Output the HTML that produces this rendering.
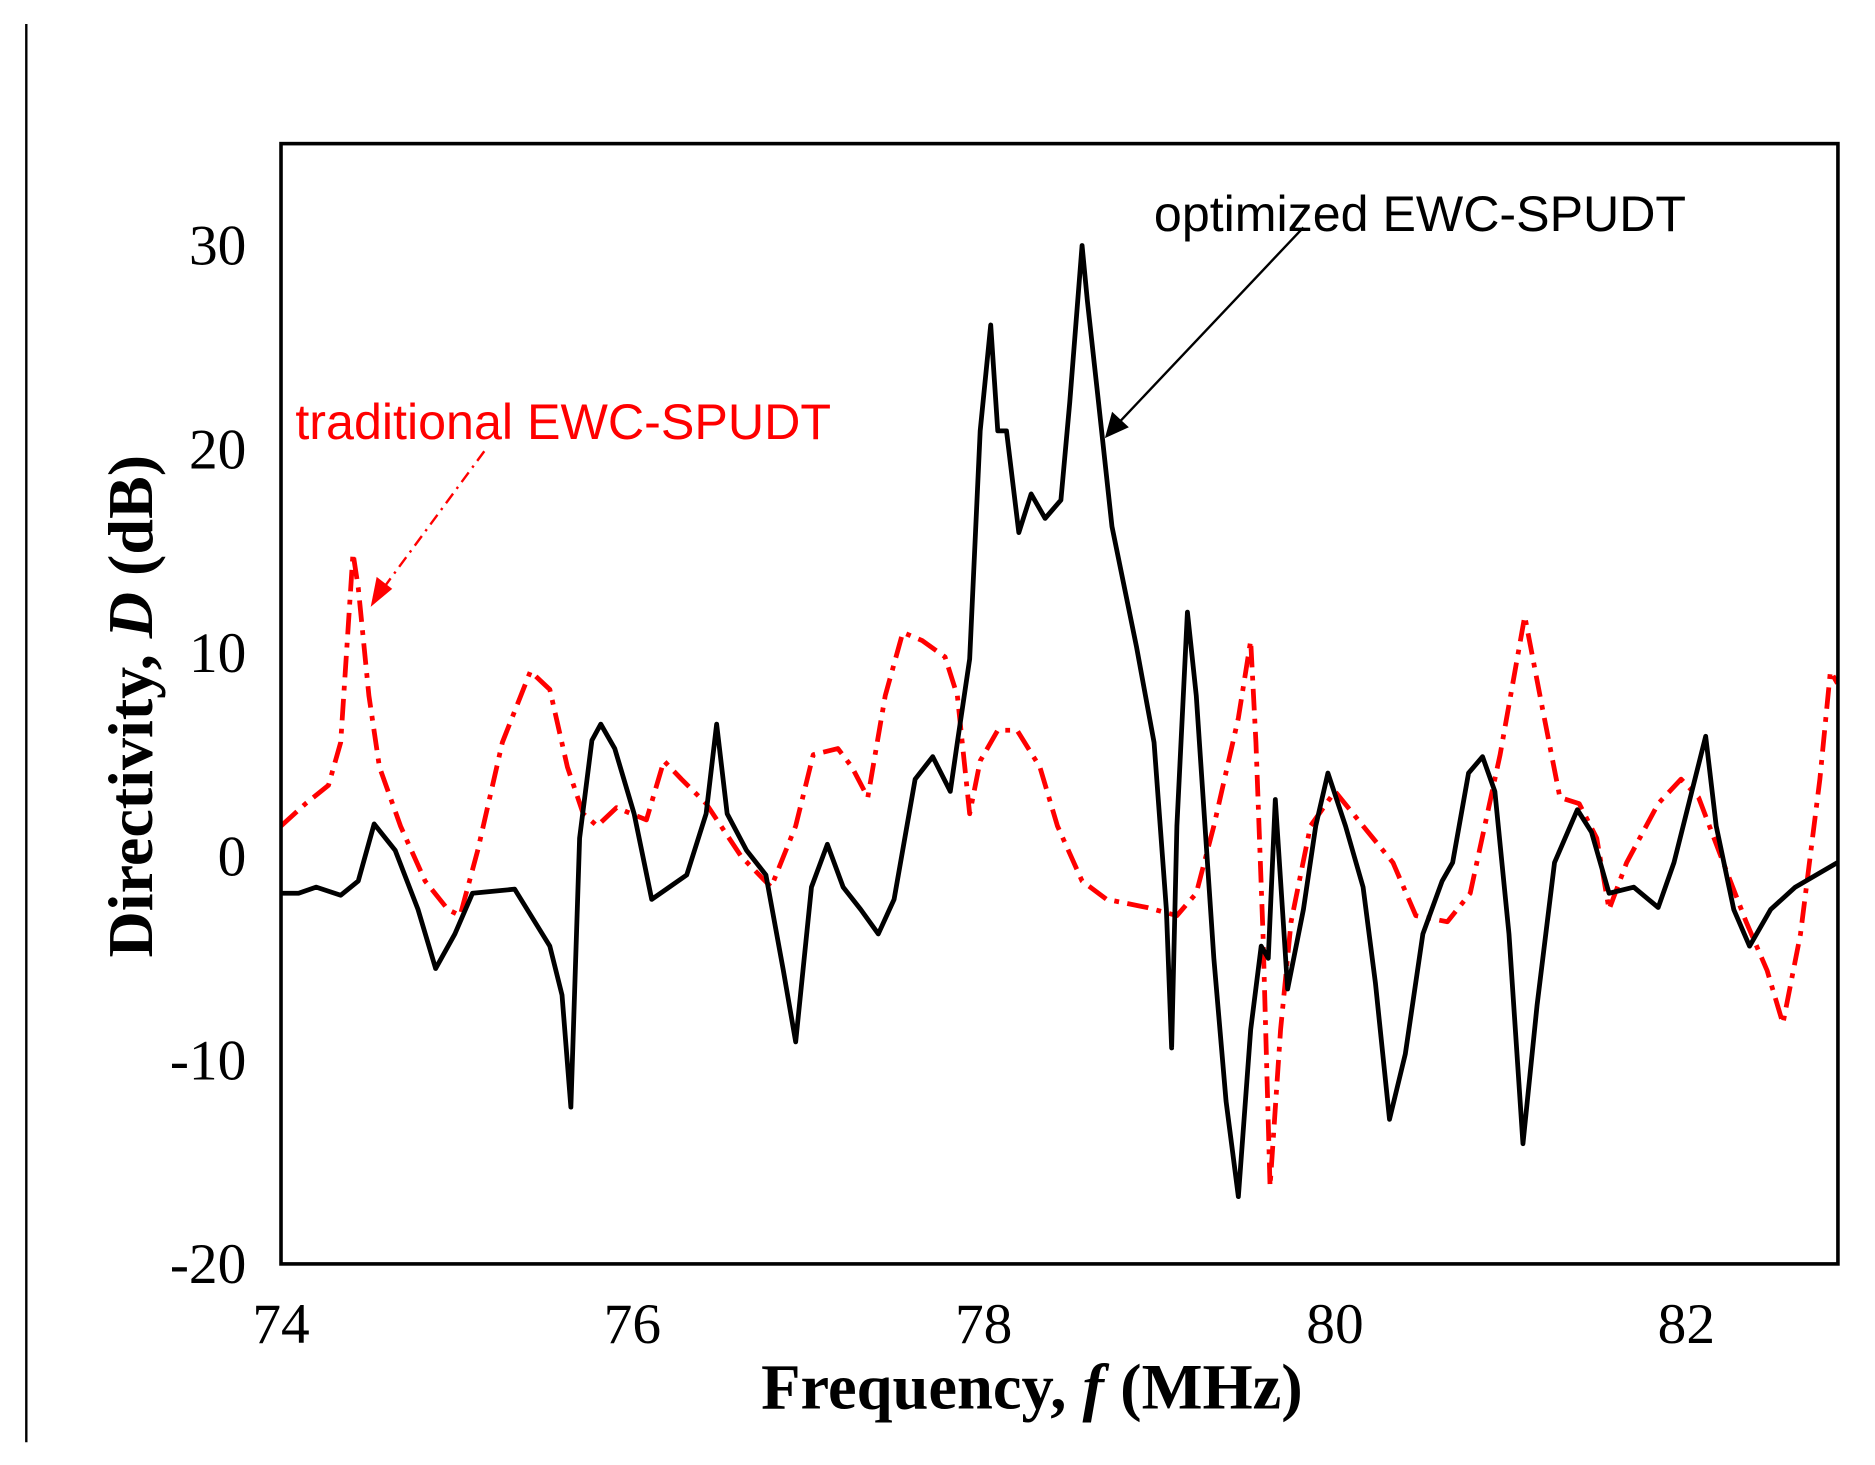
<!DOCTYPE html>
<html><head><meta charset="utf-8"><style>
html,body{margin:0;padding:0;background:#fff;}
svg{display:block;}
</style></head><body>
<svg id="chart" width="1875" height="1465" viewBox="0 0 1568 1224" preserveAspectRatio="none" xmlns="http://www.w3.org/2000/svg">
<line x1="22" y1="20" x2="22" y2="1205" stroke="#000" stroke-width="2"/>
<g id="plot"></g>
<rect x="235" y="120" width="1302" height="936" fill="none" stroke="#000" stroke-width="3"/>
<text x="863" y="1177" text-anchor="middle" font-family="Liberation Serif, serif" font-weight="bold" font-size="54" textLength="453" lengthAdjust="spacingAndGlyphs">Frequency, <tspan font-style="italic">f</tspan> (MHz)</text>
<text transform="translate(127,590) rotate(-90)" text-anchor="middle" font-family="Liberation Serif, serif" font-weight="bold" font-size="53" textLength="420" lengthAdjust="spacingAndGlyphs">Directivity, <tspan font-style="italic">D</tspan> (dB)</text>
<text x="965" y="193" font-family="Liberation Sans, sans-serif" font-size="42" textLength="445" lengthAdjust="spacingAndGlyphs" fill="#000">optimized EWC-SPUDT</text>
<line x1="1090" y1="190" x2="932" y2="357" stroke="#000" stroke-width="2"/>
<polygon points="924,366 930,344 944,357" fill="#000"/>
<text x="247" y="367" font-family="Liberation Sans, sans-serif" font-size="42" textLength="448" lengthAdjust="spacingAndGlyphs" fill="#f00">traditional EWC-SPUDT</text>
<line x1="405" y1="377" x2="318" y2="495" stroke="#f00" stroke-width="2" stroke-dasharray="10,5,2,5"/>
<polygon points="310,507 315,482 328,492" fill="#f00"/>
</svg>
<script>
const xTicks=[74,76,78,80,82];
const yTicks=[-20,-10,0,10,20,30];
const optFreq=[74,74.1,74.2,74.34,74.44,74.53,74.65,74.78,74.88,74.99,75.09,75.33,75.53,75.6,75.65,75.7,75.77,75.82,75.9,76.01,76.11,76.21,76.31,76.42,76.48,76.54,76.65,76.76,76.86,76.93,77.02,77.11,77.2,77.3,77.4,77.49,77.61,77.71,77.81,77.85,77.92,77.98,78.04,78.08,78.13,78.2,78.27,78.35,78.44,78.49,78.56,78.59,78.65,78.73,78.87,78.97,79.04,79.07,79.1,79.16,79.21,79.31,79.38,79.45,79.52,79.58,79.62,79.66,79.73,79.82,79.89,79.96,80.06,80.16,80.23,80.31,80.4,80.5,80.61,80.67,80.76,80.84,80.91,80.99,81.07,81.15,81.25,81.38,81.46,81.56,81.7,81.84,81.93,82.11,82.17,82.27,82.36,82.48,82.62,82.86];
const optD=[-1.8,-1.8,-1.5,-1.9,-1.2,1.6,0.3,-2.6,-5.5,-3.8,-1.8,-1.6,-4.4,-6.8,-12.3,0.9,5.7,6.5,5.3,2.1,-2.1,-1.5,-0.9,2.1,6.5,2.1,0.3,-0.9,-5.6,-9.1,-1.5,0.6,-1.5,-2.6,-3.8,-2.1,3.8,4.9,3.2,5.6,9.7,20.9,26.1,20.9,20.9,15.9,17.8,16.6,17.5,22.3,30,27.3,22.6,16.2,10.3,5.6,-2.6,-9.4,1.5,12,7.9,-5,-12,-16.7,-8.5,-4.4,-5,2.8,-6.5,-2.6,1.5,4.1,1.5,-1.5,-6.2,-12.9,-9.7,-3.8,-1.2,-0.3,4.1,4.9,3.2,-3.8,-14.1,-7.3,-0.3,2.3,1.2,-1.8,-1.5,-2.5,-0.3,5.9,1.5,-2.6,-4.4,-2.6,-1.5,-0.3];
const tradFreq=[74,74.14,74.27,74.34,74.41,74.44,74.5,74.56,74.68,74.82,74.95,75.02,75.12,75.26,75.42,75.53,75.63,75.72,75.8,75.91,76.08,76.18,76.28,76.42,76.62,76.79,76.93,77.03,77.17,77.25,77.34,77.44,77.54,77.65,77.78,77.85,77.92,77.98,78.08,78.19,78.32,78.42,78.56,78.7,78.93,79.1,79.21,79.31,79.45,79.52,79.55,79.59,79.63,79.69,79.75,79.86,80,80.16,80.33,80.46,80.64,80.77,80.94,81.08,81.18,81.28,81.39,81.49,81.56,81.66,81.84,81.97,82.07,82.21,82.34,82.46,82.55,82.65,82.76,82.82,82.86];
const tradD=[1.5,2.6,3.5,5.6,14.9,13.2,7.9,4.4,1.5,-1.2,-2.6,-2.9,0.3,5.6,9.1,8.2,4.4,2.1,1.5,2.4,1.8,4.7,3.8,2.6,0,-1.5,1.5,5,5.3,4.4,2.9,7.9,11,10.6,9.8,7.9,2.1,4.7,6.2,6.2,4.4,1.5,-1.2,-2.1,-2.5,-2.9,-1.8,1.5,6.8,10.6,5.6,-3.8,-16.2,-8.5,-3.2,1.5,3.2,1.5,-0.3,-2.9,-3.2,-1.8,5,11.8,7.3,2.9,2.6,0.9,-2.6,-0.3,2.6,3.8,2.9,-0.3,-3.2,-5.6,-8.2,-3.8,3.8,9.1,8.5];
const NS='http://www.w3.org/2000/svg';
const X0=235,X1=1537,Y0=1056,Y1=120,FMIN=74,FMAX=82.863,DMIN=-20,DMAX=35;
function sx(f){return X0+(f-FMIN)/(FMAX-FMIN)*(X1-X0);}
function sy(d){return Y0-(d-DMIN)/(DMAX-DMIN)*(Y0-Y1);}
const svg=document.getElementById('chart');
const plot=document.getElementById('plot');
function mk(tag,attrs){const e=document.createElementNS(NS,tag);for(const k in attrs)e.setAttribute(k,attrs[k]);return e;}
xTicks.forEach(t=>{
  const e=mk('text',{x:sx(t),y:1122,'text-anchor':'middle','font-family':'Liberation Serif, serif','font-size':'48'});
  
  
  e.textContent=t;svg.appendChild(e);
});
yTicks.forEach(t=>{
  const e=mk('text',{x:206,y:sy(t)+16,'text-anchor':'end','font-family':'Liberation Serif, serif','font-size':'48'});
  
  
  e.textContent=t;svg.appendChild(e);
});
function pathD(fs,ds){return fs.map((f,i)=>(i?'L':'M')+sx(f).toFixed(1)+','+sy(ds[i]).toFixed(1)).join(' ');}
const red=mk('path',{d:pathD(tradFreq,tradD),fill:'none',stroke:'#f00','stroke-width':'4','stroke-dasharray':'18,7,4,7','stroke-linejoin':'round'});


plot.appendChild(red);
const blk=mk('path',{d:pathD(optFreq,optD),fill:'none',stroke:'#000','stroke-width':'4','stroke-linejoin':'round'});


plot.appendChild(blk);
</script>
</body></html>
